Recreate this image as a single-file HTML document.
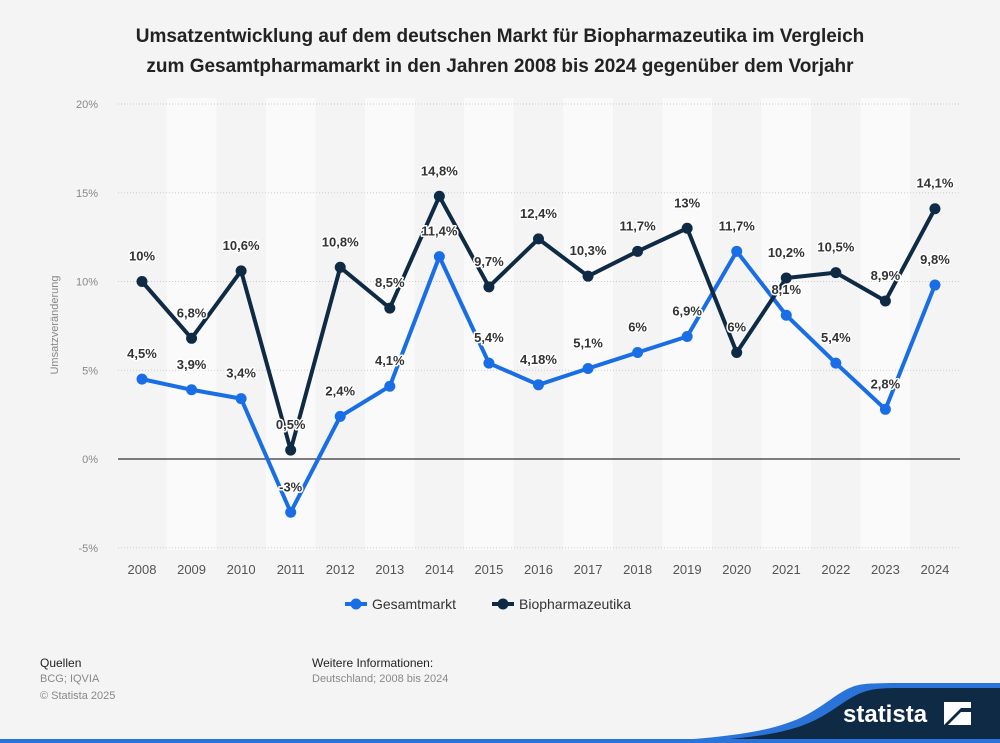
<!DOCTYPE html>
<html><head><meta charset="utf-8"><style>
body{margin:0;width:1000px;height:743px;background:#f4f4f4;font-family:"Liberation Sans",sans-serif;overflow:hidden;position:relative}
.t{position:absolute;top:22px;left:0;width:1000px;text-align:center;font-weight:bold;font-size:19px;line-height:30px;color:#222}
.f{position:absolute;font-size:11px;color:#888}
</style></head><body>
<div class="t">Umsatzentwicklung auf dem deutschen Markt für Biopharmazeutika im Vergleich<br>zum Gesamtpharmamarkt in den Jahren 2008 bis 2024 gegenüber dem Vorjahr</div>
<svg id="c" width="1000" height="743" style="position:absolute;left:0;top:0"></svg>
<div class="f" style="left:40px;top:656px;color:#222;font-size:12px">Quellen</div>
<div class="f" style="left:40px;top:673px">BCG; IQVIA</div>
<div class="f" style="left:40px;top:690px">© Statista 2025</div>
<div class="f" style="left:312px;top:656px;color:#222;font-size:12px">Weitere Informationen:</div>
<div class="f" style="left:312px;top:673px">Deutschland; 2008 bis 2024</div>
<svg width="1000" height="743" style="position:absolute;left:0;top:0">
<path d="M600,743 C780,740 800,720 830,700 C855,682 860,684 890,683 L1000,683 L1000,743Z" fill="#2a74d9"/>
<path d="M650,743 C790,740 810,725 840,705 C862,690 870,688 900,688 L1000,688 L1000,743Z" fill="#0f2a44"/>
<rect x="0" y="739" width="1000" height="4" fill="#2a74d9"/>
<text x="843" y="722" font-family="Liberation Sans" font-weight="bold" font-size="24" fill="#fff">statista</text>
<path d="M944,702 h27 v6 h-10 l-17,17z" fill="#fff"/>
<path d="M971,712 v13 h-23 l13,-13z" fill="#fff"/>
</svg>
<script>
const years=["2008","2009","2010","2011","2012","2013","2014","2015","2016","2017","2018","2019","2020","2021","2022","2023","2024"];
const gesamt=[4.5,3.9,3.4,-3,2.4,4.1,11.4,5.4,4.18,5.1,6,6.9,11.7,8.1,5.4,2.8,9.8];
const gesamtLabels=["4,5%","3,9%","3,4%","-3%","2,4%","4,1%","11,4%","5,4%","4,18%","5,1%","6%","6,9%","11,7%","8,1%","5,4%","2,8%","9,8%"];
const bio=[10,6.8,10.6,0.5,10.8,8.5,14.8,9.7,12.4,10.3,11.7,13,6,10.2,10.5,8.9,14.1];
const bioLabels=["10%","6,8%","10,6%","0,5%","10,8%","8,5%","14,8%","9,7%","12,4%","10,3%","11,7%","13%","6%","10,2%","10,5%","8,9%","14,1%"];
const yTicks=[-5,0,5,10,15,20];
const NS="http://www.w3.org/2000/svg",s=document.getElementById('c');
const x=i=>142+i*49.56, y=v=>459-v*17.75;
function el(t,a,p){const e=document.createElementNS(NS,t);for(const k in a)e.setAttribute(k,a[k]);(p||s).appendChild(e);return e;}
years.forEach((yr,i)=>{if(i%2==1){const b=el('rect',{x:x(i)-24.78,y:98,width:49.56,height:452,fill:'#fafafa'});

}
const t=el('text',{x:x(i),y:574,'text-anchor':'middle','font-size':13,fill:'#555'});t.textContent=yr;

});
yTicks.forEach(v=>{const l=el('line',{x1:118,x2:960,y1:y(v),y2:y(v),stroke:v==0?'#000':'#ccc','stroke-dasharray':v==0?'':'1,2','stroke-width':1});


const t=el('text',{x:98,y:y(v)+4,'text-anchor':'end','font-size':11,fill:'#888'});t.textContent=v+'%';

});
const yt=el('text',{transform:'translate(58,325) rotate(-90)','text-anchor':'middle','font-size':11,fill:'#888'});yt.textContent='Umsatzveränderung';


function series(d,c,name){const p=el('polyline',{points:d.map((v,i)=>x(i)+','+y(v)).join(' '),fill:'none',stroke:c,'stroke-width':4,'stroke-linejoin':'round'});


d.forEach((v,i)=>{const m=el('circle',{cx:x(i),cy:y(v),r:5.5,fill:c});

});}
function labels(d,L,name){d.forEach((v,i)=>{const t=el('text',{x:x(i),y:y(v)-21,'text-anchor':'middle','font-size':13,'font-weight':'bold',fill:'#333',stroke:'#fff','stroke-width':3,'paint-order':'stroke','stroke-linejoin':'round'});t.textContent=L[i];

});}
series(gesamt,'#1a6ee5','gesamtmarkt');series(bio,'#0f2a44','biopharmazeutika');
labels(gesamt,gesamtLabels,'gesamtmarkt');labels(bio,bioLabels,'biopharmazeutika');
[[345,'#1a6ee5','Gesamtmarkt','legend-gesamtmarkt'],[492,'#0f2a44','Biopharmazeutika','legend-biopharmazeutika']].forEach(([lx,c,n,dn])=>{
const g=el('g',{});
el('line',{x1:lx,x2:lx+22,y1:604,y2:604,stroke:c,'stroke-width':4},g);el('circle',{cx:lx+11,cy:604,r:5.5,fill:c},g);
const t=el('text',{x:lx+27,y:609,'font-size':14,fill:'#333'},g);t.textContent=n;});
</script>
</body></html>
